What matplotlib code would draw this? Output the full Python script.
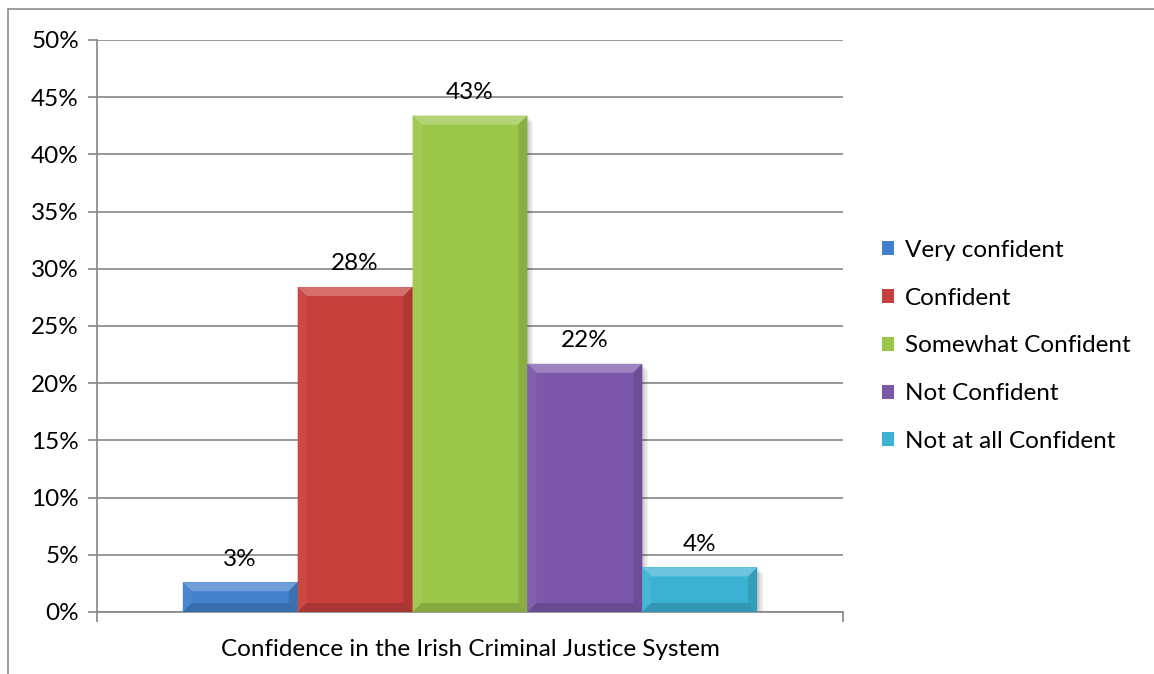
import numpy as np
import matplotlib
matplotlib.use("Agg")
import matplotlib.pyplot as plt
from matplotlib.patches import Polygon, Rectangle
from matplotlib.colors import to_rgb

plt.rcParams['font.family'] = ['Lato', 'DejaVu Sans']

# Survey results
categories = ['Very confident', 'Confident', 'Somewhat Confident',
              'Not Confident', 'Not at all Confident']
shares = [0.026, 0.284, 0.434, 0.217, 0.039]
colors = ['#4280cc', '#c63f3b', '#9cc64a', '#7c58aa', '#3cb2d2']
group_label = 'Confidence in the Irish Criminal Justice System'
yticks = np.arange(0, 0.51, 0.05)

FS = 17.5
GRID = '#868686'


def shade(c, k):
    r = np.array(to_rgb(c))
    if k > 0:
        return tuple(r + (1 - r) * k)
    return tuple(r * (1 + k))


fig = plt.figure(figsize=(11.54, 6.74), dpi=100)
ax = fig.add_axes([97 / 1154, 62 / 674, 746 / 1154, 572 / 674])

# chart frame
fig.patches.append(Rectangle((8 / 1154, -0.1), 1.2, (674 - 9) / 674 + 0.1,
                             transform=fig.transFigure, fill=False,
                             edgecolor='#8c8c8c', lw=1.2, zorder=0))

n = len(categories)
width = 0.154
offsets = (np.arange(n) - (n - 1) / 2) * width
bars = []
for off, v, c, lab in zip(offsets, shares, colors, categories):
    b = ax.bar(off, v, width, color=c, label=lab, zorder=3, lw=0)
    bars.append(b[0])

ax.set_xlim(-0.5, 0.5)
ax.set_ylim(0, 0.5)

# pixel scale for bevel and shadow
px_x = 1 / (746 / 1.0)
px_y = 1 / (572 / 0.5)
bev = 9
for b, c in zip(bars, colors):
    x0, y0 = b.get_x(), b.get_y()
    x1, y1 = x0 + b.get_width(), y0 + b.get_height()
    dx, dy = bev * px_x, min(bev * px_y, (y1 - y0) / 2)
    # soft drop shadow
    for k in range(4):
        s = (k + 1) * 1.5
        ax.add_patch(Rectangle((x0 + s * px_x, y0 - s * px_y), x1 - x0, y1 - y0,
                               color='#000000', alpha=0.05, lw=0, zorder=2))
    facets = [
        ([(x0, y1), (x1, y1), (x1 - dx, y1 - dy), (x0 + dx, y1 - dy)], 0.25),
        ([(x0, y0), (x0, y1), (x0 + dx, y1 - dy), (x0 + dx, y0 + dy)], 0.05),
        ([(x1, y0), (x1, y1), (x1 - dx, y1 - dy), (x1 - dx, y0 + dy)], -0.12),
        ([(x0, y0), (x1, y0), (x1 - dx, y0 + dy), (x0 + dx, y0 + dy)], -0.15),
    ]
    for pts, k in facets:
        ax.add_patch(Polygon(pts, closed=True, color=shade(c, k), lw=0, zorder=4))

# value labels
for b, v in zip(bars, shares):
    ax.annotate(f'{v:.0%}', (b.get_x() + b.get_width() / 2, b.get_height()),
                xytext=(0, 12), textcoords='offset points',
                ha='center', va='baseline', fontsize=FS, zorder=5)

ax.set_yticks(yticks)
ax.set_yticklabels([f'{t:.0%}' for t in yticks], fontsize=FS)
ax.yaxis.grid(True, color=GRID, lw=1.2)
ax.set_axisbelow(True)
ax.tick_params(axis='y', length=6.5, color=GRID, width=1.2, pad=6.5)

ax.set_xticks([-0.5, 0.5])
ax.set_xticklabels(['', ''])
ax.tick_params(axis='x', length=7, color=GRID, width=1.2)
ax.text(0.5, -0.066, group_label, ha='center', va='center', fontsize=FS,
        transform=ax.transAxes)

for side in ['top', 'right']:
    ax.spines[side].set_visible(False)
for side in ['left', 'bottom']:
    ax.spines[side].set_color(GRID)
    ax.spines[side].set_linewidth(1.2)

ax.legend(loc='upper left', bbox_to_anchor=(882 / 1154, (674 - 240) / 674),
          bbox_transform=fig.transFigure, frameon=False, fontsize=FS,
          handlelength=0.5, handleheight=0.5, handletextpad=0.45,
          labelspacing=1.1, borderaxespad=0, borderpad=0)

fig.savefig('out.png', dpi=100)
